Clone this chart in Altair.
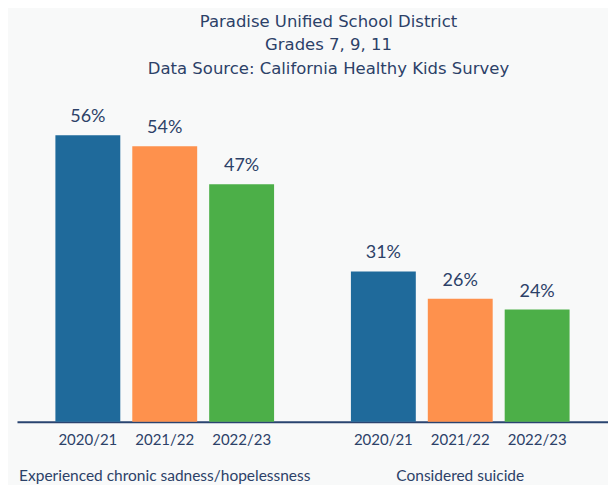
import altair as alt
import pandas as pd

title_lines = [
    "Paradise Unified School District",
    "Grades 7, 9, 11",
    "Data Source: California Healthy Kids Survey",
]
groups = ["Experienced chronic sadness/hopelessness", "Considered suicide"]
years = ["2020/21", "2021/22", "2022/23"]
values_sadness = [56, 54, 47]
values_suicide = [31, 26, 24]
colors = ["#1f6a9b", "#fe914d", "#4caf48"]

rows = []
for g, vals in zip(groups, [values_sadness, values_suicide]):
    for yr, v in zip(years, vals):
        rows.append({"group": g, "year": yr, "value": v, "label": f"{v}%"})
df = pd.DataFrame(rows)

TEXT = "#2c4168"
FONT = "Lato"
W, H = 592, 322

x = alt.X(
    "group:N",
    sort=groups,
    scale=alt.Scale(paddingInner=0.26, paddingOuter=0.13),
    axis=alt.Axis(
        title=None, labelAngle=0, ticks=False, domainColor="#2a4470",
        domainWidth=2, labelFont=FONT, labelFontSize=15.5, labelColor=TEXT,
        labelPadding=59, labelBaseline="alphabetic", labelLimit=0, grid=False,
    ),
)
xo = alt.XOffset("year:N", sort=years, scale=alt.Scale(paddingInner=0.156, paddingOuter=0))
y = alt.Y("value:Q", scale=alt.Scale(domain=[3.4, 62.45], zero=False, nice=False, clamp=True), axis=None)

base = alt.Chart(df)

bars = base.mark_bar().encode(
    x=x, xOffset=xo, y=y,
    color=alt.Color("year:N", sort=years, scale=alt.Scale(domain=years, range=colors), legend=None),
)

value_labels = base.mark_text(
    font=FONT, fontSize=18, color=TEXT, baseline="alphabetic", dy=-13
).encode(x=x, xOffset=xo, y=y, text="label:N")

year_labels = base.mark_text(
    font=FONT, fontSize=15, color=TEXT, baseline="alphabetic", dy=23.7
).encode(x=x, xOffset=xo, y=alt.value(H), text="year:N")

chart = (
    alt.layer(bars, value_labels, year_labels)
    .properties(
        width=W,
        height=H,
        title=alt.Title(
            title_lines, fontSize=16.5, font="DejaVu Sans", fontWeight="normal", color=TEXT,
            lineHeight=23.5, anchor="middle", dx=16, offset=23,
        ),
        autosize=alt.AutoSizeParams(type="none"),
        padding={"left": 9, "top": 92, "right": 0, "bottom": 63},
        background="#f8f9f9",
    )
    .configure_view(stroke=None)
)

chart.save("out.html", embed_options={"renderer": "svg", "actions": False})
